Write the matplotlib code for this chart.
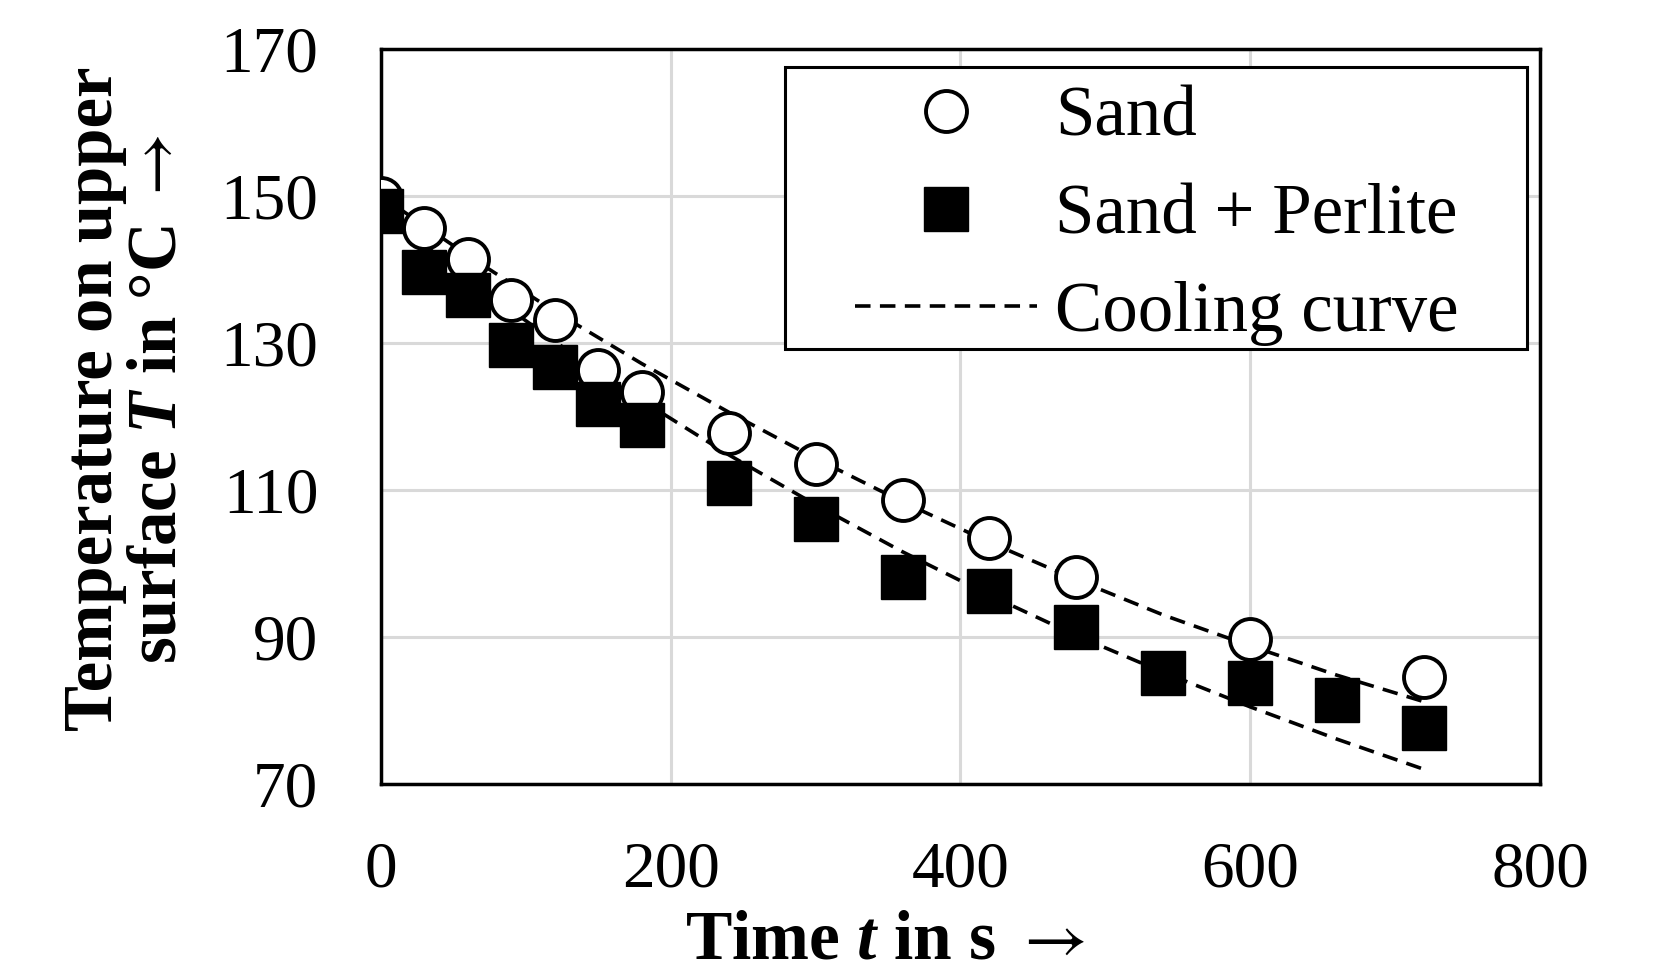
import matplotlib
matplotlib.use('Agg')
import matplotlib.pyplot as plt
from matplotlib.patches import Rectangle
from matplotlib.lines import Line2D

plt.rcParams['font.family'] = ['Liberation Serif', 'DejaVu Serif']
plt.rcParams['mathtext.fontset'] = 'custom'
plt.rcParams['mathtext.rm'] = 'Liberation Serif'
plt.rcParams['mathtext.it'] = 'Liberation Serif:italic'
plt.rcParams['mathtext.bf'] = 'Liberation Serif:bold'
plt.rcParams['mathtext.bfit'] = 'Liberation Serif:italic:bold'
plt.rcParams['mathtext.sf'] = 'STIXGeneral'   # only used for the long arrows

# measured points
sand_t = [0, 30, 60, 90, 120, 150, 180, 240, 300, 360, 420, 480, 600, 720]
sand_T = [149.7, 145.7, 141.4, 135.9, 133.2, 126.3, 123.4, 117.8, 113.6, 108.6, 103.5, 98.2, 89.7, 84.5]

perlite_t = [0, 30, 60, 90, 120, 150, 180, 240, 300, 360, 420, 480, 540, 600, 660, 720]
perlite_T = [148.0, 139.6, 136.5, 129.7, 126.8, 121.7, 118.8, 111.0, 106.1, 98.2, 96.3, 91.3, 85.1, 83.8, 81.4, 77.6]

# cooling curves
curve_t = [0, 60, 120, 180, 240, 300, 360, 420, 480, 540, 600, 660, 720]
sand_curve = [150.0, 141.9, 134.3, 127.2, 120.6, 114.3, 108.4, 102.9, 97.8, 93.0, 88.8, 84.8, 81.2]
perlite_curve = [148.0, 138.7, 130.2, 122.2, 114.8, 108.0, 101.6, 95.7, 90.2, 85.2, 80.5, 76.1, 72.0]

x_ticks = [0, 200, 400, 600, 800]
y_ticks = [70, 90, 110, 130, 150, 170]

fig = plt.figure(figsize=(16.6, 9.73), dpi=100)
ax = fig.add_axes([0.2295, 0.1942, 0.6982, 0.7554])

dash = (0, (4.3, 2.6))
ax.plot(curve_t, sand_curve, ls=dash, color='black', lw=2.6, zorder=2)
ax.plot(curve_t, perlite_curve, ls=dash, color='black', lw=2.6, zorder=2)
ax.plot(sand_t, sand_T, 'o', ms=29.5, mfc='white', mec='black', mew=2.8, zorder=3)
ax.plot(perlite_t, perlite_T, 's', ms=32, color='black', mew=1, zorder=4)

ax.set_xlim(0, 800)
ax.set_ylim(70, 170)
ax.set_xticks(x_ticks)
ax.set_yticks(y_ticks)
ax.tick_params(axis='both', length=0, labelsize=47)
ax.tick_params(axis='x', pad=41)
ax.tick_params(axis='y', pad=45)
ax.grid(color='#d9d9d9', lw=2.2)
ax.set_axisbelow(True)
for s in ax.spines.values():
    s.set_linewidth(2.5)
    s.set_color('black')

# legend with a hand-drawn frame
ax.add_patch(Rectangle((0.349, 0.592), 0.64, 0.3835, transform=ax.transAxes,
                       fc='white', ec='black', lw=2.2, zorder=4.5))
handles = [
    Line2D([], [], ls='none', marker='o', ms=29.5, mfc='white', mec='black', mew=2.8),
    Line2D([], [], ls='none', marker='s', ms=32, color='black', mew=1),
    Line2D([], [], ls=dash, color='black', lw=2.6),
]
labels = ['Sand', 'Sand + Perlite', 'Cooling curve']
leg = ax.legend(handles, labels, loc='center', bbox_to_anchor=(0.6695, 0.773),
                frameon=False, borderpad=0, handlelength=2.57, handletextpad=0.25,
                labelspacing=0.46, fontsize=51, numpoints=1)
leg.set_zorder(5)

ax.set_xlabel('Time $\\mathbfit{t}$ in s $\\mathsf{\\rightarrow}$', fontsize=50, fontweight='bold')
ax.xaxis.set_label_coords(0.435, -0.2367)
ax.xaxis.label.set_va('baseline')

fig.text(0.0765, 1 - 399 / 973,
         'Temperature on upper\nsurface $\\mathbfit{T}$ in °C $\\mathsf{\\rightarrow}$',
         rotation=90, ha='center', va='center', fontsize=49.5, fontweight='bold',
         linespacing=1.0, multialignment='center')

fig.savefig('out.png', dpi=100)
